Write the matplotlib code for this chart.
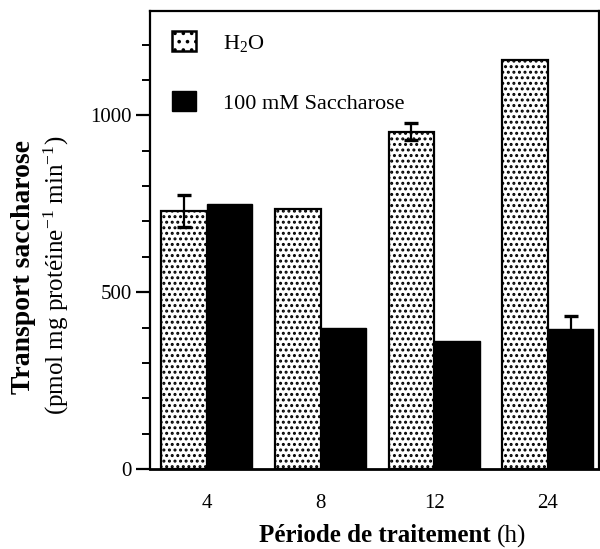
import matplotlib
matplotlib.use("Agg")
import matplotlib.pyplot as plt
import numpy as np
from matplotlib.patches import Patch
from matplotlib.ticker import MultipleLocator

plt.rcParams['font.family'] = ['Liberation Serif', 'DejaVu Serif']
plt.rcParams['mathtext.fontset'] = 'custom'
plt.rcParams['mathtext.rm'] = 'Liberation Serif'
plt.rcParams['mathtext.it'] = 'Liberation Serif:italic'
plt.rcParams['mathtext.bf'] = 'Liberation Serif:bold'
plt.rcParams['hatch.linewidth'] = 1.4

# ---- data ----
periods = ['4', '8', '12', '24']
h2o = [730, 735, 954, 1156]
h2o_err = [45, 0, 23, 0]
sacch = [748, 400, 363, 395]
sacch_err = [0, 0, 0, 39]
series_labels = ['H$_2$O', '100 mM Saccharose']

W, H = 600, 549
fig = plt.figure(figsize=(W / 100, H / 100), dpi=100)
L, R, T, B = 150, 599, 11, 469
ax = fig.add_axes([L / W, 1 - B / H, (R - L) / W, (B - T) / H])

x = np.arange(len(periods))
bw = 0.40
ax.bar(x - bw / 2, h2o, bw, facecolor='white', edgecolor='black',
       linewidth=1.6, hatch='...', zorder=2)
ax.bar(x + bw / 2, sacch, bw, facecolor='black', edgecolor='black',
       linewidth=1.0, zorder=2)

for xi, v, e in zip(x - bw / 2, h2o, h2o_err):
    if e > 0:
        ax.errorbar(xi, v, yerr=e, fmt='none', ecolor='black', elinewidth=1.6,
                    capsize=5, capthick=2.4, zorder=3)
for xi, v, e in zip(x + bw / 2, sacch, sacch_err):
    if e > 0:
        ax.errorbar(xi, v, yerr=e, fmt='none', ecolor='black', elinewidth=1.6,
                    capsize=5, capthick=2.4, zorder=3)

ax.set_xlim(-0.5, 3.45)
ax.set_ylim(0, 1295)
ax.set_xticks(x)
ax.set_xticklabels(periods)
ax.set_yticks([0, 500, 1000])
ax.yaxis.set_minor_locator(MultipleLocator(100))
ax.tick_params(axis='x', length=0, pad=18, labelsize=15)
ax.tick_params(axis='y', which='major', length=10, width=1.6, pad=3, labelsize=15,
               direction='out')
ax.tick_params(axis='y', which='minor', length=6, width=1.4, direction='out')
for s in ax.spines.values():
    s.set_linewidth(1.6)
ax.spines['bottom'].set_linewidth(2.0)

handles = [Patch(facecolor='white', edgecolor='black', hatch='..', linewidth=1.8),
           Patch(facecolor='black', edgecolor='black')]
ax.legend(handles, series_labels, loc='upper left', bbox_to_anchor=(0.014, 0.99),
          frameon=False, fontsize=16, handlelength=1.1, handleheight=1.0,
          labelspacing=1.7, handletextpad=1.2, borderaxespad=0.3)

# axis labels
fig.text(24 / W, 1 - 267 / H, 'Transport saccharose', rotation=90, ha='center',
         va='center', fontsize=20, fontweight='bold')
fig.text(56 / W, 1 - 275 / H, '(pmol mg protéine$^{-1}$ min$^{-1}$)', rotation=90,
         ha='center', va='center', fontsize=18)
fig.text(491 / W, 1 - 536 / H, 'Période de traitement', ha='right', va='center',
         fontsize=18, fontweight='bold')
fig.text(497 / W, 1 - 536 / H, '(h)', ha='left', va='center', fontsize=18)

fig.savefig('out.png', dpi=100)
